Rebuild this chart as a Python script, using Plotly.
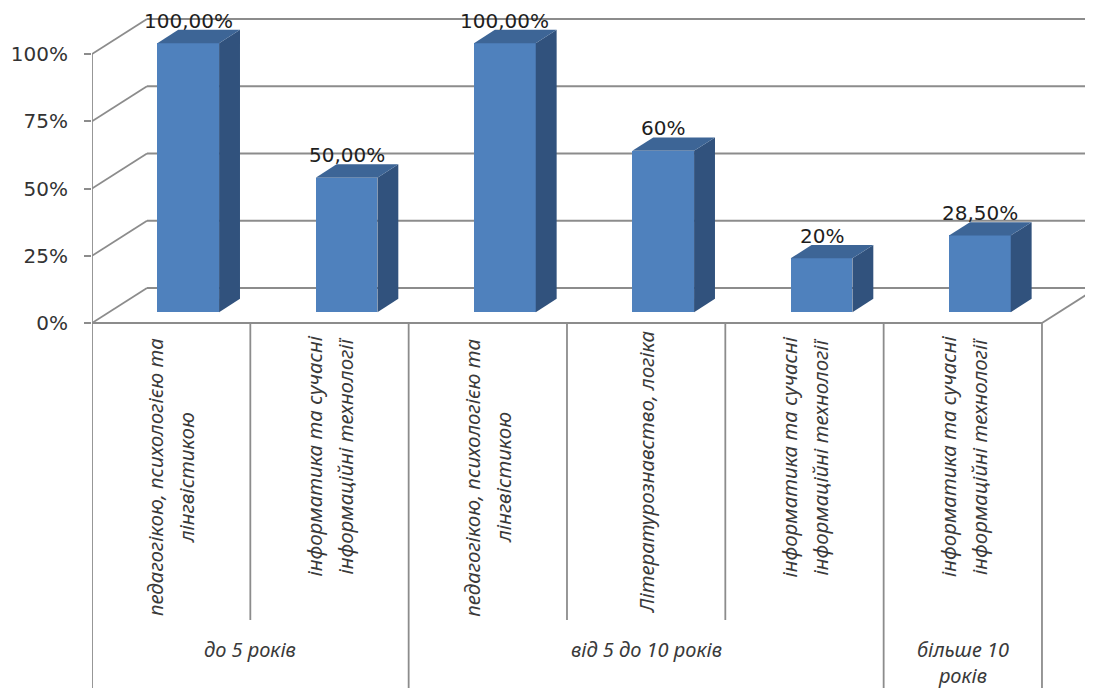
import plotly.graph_objects as go

# ---------------- data ----------------
group_labels = [["до 5 років"], ["від 5 до 10 років"], ["більше 10", "років"]]
group_sizes = [2, 3, 1]
category_labels = [
    ["педагогікою, психологією та", "лінгвістикою"],
    ["інформатика та сучасні", "інформаційні технології"],
    ["педагогікою, психологією та", "лінгвістикою"],
    ["Літературознавство, логіка"],
    ["інформатика та сучасні", "інформаційні технології"],
    ["інформатика та сучасні", "інформаційні технології"],
]
values = [100, 50, 100, 60, 20, 28.5]
value_labels = ["100,00%", "50,00%", "100,00%", "60%", "20%", "28,50%"]
y_ticks = [0, 25, 50, 75, 100]
y_tick_labels = ["0%", "25%", "50%", "75%", "100%"]

# ---------------- geometry (page pixels -> data units) ----------------
OFF = 8                       # default page body margin
W, H = 1093 - OFF, 688 - OFF  # figure size
PX_LEFT = 92 - OFF            # front axis
PX_FLOOR = 323 - OFF          # front 0% line
PX_CAT = 158.33               # pixels per category
PX_PCT = 2.69                 # pixels per percent
DEPTH_X = 55 / PX_CAT         # full depth offset (data units)
DEPTH_Y = 35 / PX_PCT
F_FRONT, F_BACK = 0.31, 0.69  # bar depth fractions
BAR_W = 0.39

n = len(values)
x_max = (W - PX_LEFT) / PX_CAT
y_min = -(H - PX_FLOOR) / PX_PCT
y_max = PX_FLOOR / PX_PCT


def py(pix):
    """page pixel row -> data y"""
    return (PX_FLOOR - (pix - OFF)) / PX_PCT


GRID = "#8C8C8C"
shapes = []


def seg(x0, y0, x1, y1):
    shapes.append(dict(type="line", xref="x", yref="y", x0=x0, y0=y0, x1=x1, y1=y1,
                       line=dict(color=GRID, width=1.8), layer="below"))


# back wall gridlines + side wall diagonals
for v in y_ticks:
    seg(0, v, DEPTH_X, v + DEPTH_Y)
    seg(DEPTH_X, v + DEPTH_Y, x_max + 0.5, v + DEPTH_Y)
# front axis line and floor edges
seg(0, y_min, 0, y_ticks[-1])
seg(0, 0, n, 0)
seg(n, 0, n + DEPTH_X, DEPTH_Y)
# table separators
bottom_inner = py(620)
edges = [0]
for s in group_sizes:
    edges.append(edges[-1] + s)
for k in range(1, n + 1):
    if k in edges:
        seg(k, 0, k, y_min)
    else:
        seg(k, 0, k, bottom_inner)

fig = go.Figure()

fx = F_FRONT * DEPTH_X
fy = F_FRONT * DEPTH_Y
dx = (F_BACK - F_FRONT) * DEPTH_X
dy = (F_BACK - F_FRONT) * DEPTH_Y
centers = [i + 0.5 + fx for i in range(n)]

fig.add_trace(go.Bar(x=centers, y=values, base=fy, width=BAR_W,
                     marker=dict(color="#4F81BD", line=dict(width=0)),
                     hoverinfo="skip", showlegend=False))

for c, v in zip(centers, values):
    xl, xr = c - BAR_W / 2, c + BAR_W / 2
    top = fy + v
    # side face
    fig.add_trace(go.Scatter(
        x=[xr, xr, xr + dx, xr + dx, xr], y=[fy, top, top + dy, fy + dy, fy],
        fill="toself", fillcolor="#31527D", mode="lines", line=dict(width=0, color="#31527D"),
        hoverinfo="skip", showlegend=False))
    # top face
    fig.add_trace(go.Scatter(
        x=[xl, xr, xr + dx, xl + dx, xl], y=[top, top, top + dy, top + dy, top],
        fill="toself", fillcolor="#3D6596", mode="lines", line=dict(width=0, color="#3D6596"),
        hoverinfo="skip", showlegend=False))

annotations = []
# data labels
for c, v, t in zip(centers, values, value_labels):
    annotations.append(dict(x=c, y=fy + v + dy, xref="x", yref="y", text=t, showarrow=False,
                            yanchor="bottom", xanchor="center", yshift=-5,
                            font=dict(family="DejaVu Sans", size=20, color="#1E1E1E")))

# category labels (rotated)
CHAR_PX = 10.4
LINE_GAP = 31
TOP_PX = 337
for i, lines in enumerate(category_labels):
    longest = max(len(s) for s in lines)
    center_px = TOP_PX + longest * CHAR_PX / 2
    m = len(lines)
    for j, s in enumerate(lines):
        annotations.append(dict(x=i + 0.5, y=py(center_px), xref="x", yref="y", text=s,
                                showarrow=False, textangle=-90, xanchor="center", yanchor="middle",
                                xshift=(j - (m - 1) / 2) * LINE_GAP,
                                font=dict(family="Noto Sans", size=20.5, color="#3A3A3A", style="italic")))

# group labels
GROUP_TOP_PX = 635
for g, lines in enumerate(group_labels):
    xc = (edges[g] + edges[g + 1]) / 2
    annotations.append(dict(x=xc, y=py(GROUP_TOP_PX), xref="x", yref="y", text="<br>".join(lines),
                            showarrow=False, xanchor="center", yanchor="top", align="center",
                            borderpad=0,
                            font=dict(family="Noto Sans", size=20, color="#3A3A3A", style="italic")))

fig.update_layout(
    width=W, height=H,
    margin=dict(l=PX_LEFT, r=0, t=0, b=0, pad=0),
    paper_bgcolor="white", plot_bgcolor="white",
    shapes=shapes, annotations=annotations,
    showlegend=False, bargap=0,
    xaxis=dict(range=[0, x_max], visible=False, fixedrange=True),
    yaxis=dict(range=[y_min, y_max], tickvals=y_ticks, ticktext=y_tick_labels,
               showgrid=False, zeroline=False, showline=False,
               ticks="outside", ticklen=7, tickwidth=1.5, tickcolor=GRID,
               ticklabelstandoff=12, automargin=False,
               tickfont=dict(family="DejaVu Sans", size=20, color="#333333"), fixedrange=True),
)

fig.write_html("out.html")
